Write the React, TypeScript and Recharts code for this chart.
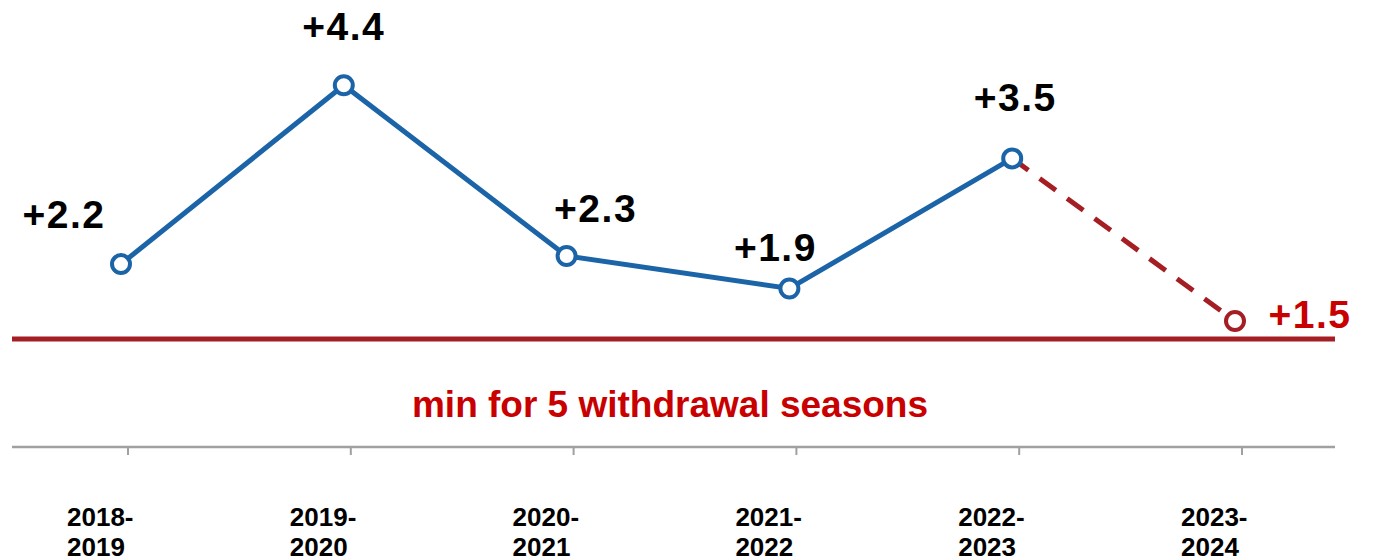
import { LineChart, Line, XAxis, YAxis, ReferenceLine, LabelList } from "recharts";

const seasons = ["2018-2019", "2019-2020", "2020-2021", "2021-2022", "2022-2023", "2023-2024"];
const actual = [2.2, 4.4, 2.3, 1.9, 3.5, null];
const forecast = [null, null, null, null, 3.5, 1.5];
const minLevel = 1.28;
const minText = "min for 5 withdrawal seasons";

// label nudges (dx, baseline dy) relative to each point
const labelShift = [
  [-57, -36],
  [0, -45],
  [29, -34],
  [-14, -27],
  [3, -47],
  [75, 7],
];

const data = seasons.map((s, i) => ({ season: s, actual: actual[i], forecast: forecast[i] }));

const BLUE = "#1b64a8";
const DARK_RED = "#a51e24";
const RED = "#c80000";
const FONT = "'Liberation Sans', Arial, sans-serif";

const SeasonTick = (props: any) => {
  const { x, y, payload } = props;
  const [a, b] = String(payload.value).split("-");
  return (
    <g>
      <line x1={x + 7} x2={x + 7} y1={y} y2={y + 8} stroke="#a0a0a0" strokeWidth={2} />
      <text x={x - 54} y={y + 79} fontFamily={FONT} fontWeight="bold" fontSize={26} fill="#000">
        <tspan x={x - 54}>{a + "-"}</tspan>
        <tspan x={x - 54} dy={30}>{b}</tspan>
      </text>
    </g>
  );
};

const valueLabel = (color: string, onlyLast: boolean) => (props: any) => {
  const { x, y, value, index } = props;
  if (value == null) return null;
  if (onlyLast && index !== seasons.length - 1) return null;
  if (!onlyLast && index === seasons.length - 1) return null;
  const [dx, dy] = labelShift[index];
  return (
    <text
      x={x + dx}
      y={y + dy}
      textAnchor="middle"
      fontFamily={FONT}
      fontWeight="bold"
      fontSize={39}
      letterSpacing={1.5}
      fill={color}
    >
      {"+" + value.toFixed(1)}
    </text>
  );
};

const ForecastDot = (props: any) => {
  const { cx, cy, index } = props;
  if (index !== seasons.length - 1) return <g key={index} />;
  return <circle key={index} cx={cx} cy={cy} r={9} fill="#fff" stroke={DARK_RED} strokeWidth={4} />;
};

export default function App() {
  return (
    <div style={{ width: 1360, height: 550 }}>
      <LineChart
        width={1360}
        height={550}
        data={data}
        margin={{ top: 0, right: 33, bottom: 0, left: 4 }}
      >
        <XAxis
          dataKey="season"
          height={111}
          padding={{ left: 109, right: 100 }}
          axisLine={{ stroke: "#a0a0a0", strokeWidth: 2.5 }}
          tickLine={false}
          tickSize={0}
          tickMargin={0}
          interval={0}
          tick={<SeasonTick />}
        />
        <YAxis hide domain={[-0.05, 5.35]} />
        <ReferenceLine
          y={minLevel}
          stroke={DARK_RED}
          strokeWidth={5}
          label={(p: any) => (
            <text
              x={p.viewBox.x + 658}
              y={p.viewBox.y + 78}
              textAnchor="middle"
              fontFamily={FONT}
              fontWeight="bold"
              fontSize={37}
              fill={RED}
            >
              {minText}
            </text>
          )}
        />
        <Line
          dataKey="forecast"
          stroke={DARK_RED}
          strokeWidth={5}
          strokeDasharray="20 14"
          dot={<ForecastDot />}
          activeDot={false}
          isAnimationActive={false}
          connectNulls={false}
        >
          <LabelList dataKey="forecast" content={valueLabel(RED, true)} />
        </Line>
        <Line
          dataKey="actual"
          stroke={BLUE}
          strokeWidth={5}
          dot={{ r: 9, fill: "#fff", stroke: BLUE, strokeWidth: 4 }}
          activeDot={false}
          isAnimationActive={false}
        >
          <LabelList dataKey="actual" content={valueLabel("#000", false)} />
        </Line>
      </LineChart>
    </div>
  );
}
